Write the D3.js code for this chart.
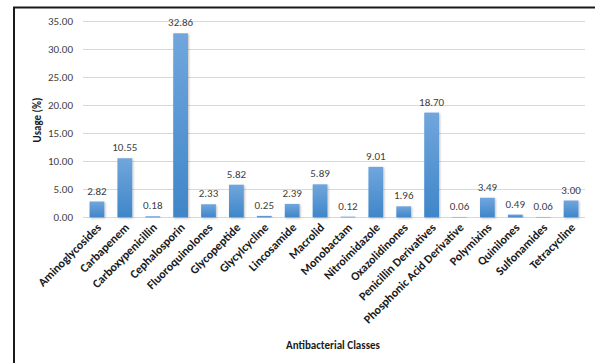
<!DOCTYPE html>
<html><head><meta charset="utf-8">
<script src="https://cdn.jsdelivr.net/npm/d3@7"></script>
<style>body{margin:0;background:#fff}svg{display:block}</style>
</head><body>
<script>
const categories = ["Aminoglycosides","Carbapenem","Carboxypenicillin","Cephalosporin","Fluoroquinolones","Glycopeptide","Glycylcycline","Lincosamide","Macrolid","Monobactam","Nitroimidazole","Oxazolidinones","Penicillin Derivatives","Phosphonic Acid Derivative","Polymixins","Quinilones","Sulfonamides","Tetracycline"];
const usage = [2.82,10.55,0.18,32.86,2.33,5.82,0.25,2.39,5.89,0.12,9.01,1.96,18.70,0.06,3.49,0.49,0.06,3.00];
const yTicks = [0,5,10,15,20,25,30,35];
const yTitle = "Usage (%)";
const xTitle = "Antibacterial Classes";

const W=595,H=363;
const font = "Carlito, Calibri, Lato, sans-serif";
const svg = d3.select("body").append("svg").attr("width",W).attr("height",H);
const defs = svg.append("defs");
const g = defs.append("linearGradient").attr("id","bg").attr("x1",0).attr("y1",0).attr("x2",0).attr("y2",1);
g.append("stop").attr("offset","0%").attr("stop-color","#71a6dd");
g.append("stop").attr("offset","100%").attr("stop-color","#3f86c9");
const f = defs.append("filter").attr("id","sh").attr("x","-30%").attr("y","-10%").attr("width","160%").attr("height","130%");
f.append("feDropShadow").attr("dx",1).attr("dy",1).attr("stdDeviation",0.8).attr("flood-color","#000").attr("flood-opacity",0.25);

// frame
svg.append("path").attr("d",`M14,${H+2}V7.5H${W+2}`).attr("fill","none").attr("stroke","#1a1a1a").attr("stroke-width",2);

const x = d3.scaleBand().domain(categories).range([83,585]).paddingInner(0.47).paddingOuter(0.235);
const y = d3.scaleLinear().domain([0,35]).range([217.3,21.3]);

// grid
svg.append("g").selectAll("line").data(yTicks).join("line")
 .attr("x1",83).attr("x2",585).attr("y1",d=>Math.round(y(d))+0.5).attr("y2",d=>Math.round(y(d))+0.5)
 .attr("stroke","#d9d9d9").attr("stroke-width",1);

// y axis labels
const ya = svg.append("g").attr("transform","translate(83,0)")
 .call(d3.axisLeft(y).tickValues(yTicks).tickFormat(d3.format(".2f")).tickSize(0).tickPadding(10));
ya.select(".domain").remove();
ya.selectAll("text").attr("font-family",font).attr("font-size",11).attr("fill","#404040");

// bars
svg.append("g").selectAll("rect").data(usage).join("rect")
 .attr("x",(d,i)=>x(categories[i])).attr("width",x.bandwidth())
 .attr("y",d=>y(d)).attr("height",d=>y(0)-y(d))
 .attr("fill","url(#bg)").attr("filter","url(#sh)");

// data labels
svg.append("g").selectAll("text").data(usage).join("text")
 .attr("x",(d,i)=>x(categories[i])+x.bandwidth()/2).attr("y",d=>y(d)-7)
 .attr("text-anchor","middle").attr("font-family",font).attr("font-size",11).attr("fill","#404040")
 .text(d=>d3.format(".2f")(d));

// x labels
const xa = svg.append("g").attr("transform",`translate(0,${y(0)})`)
 .call(d3.axisBottom(x).tickSize(0).tickPadding(0));
xa.select(".domain").remove();
xa.selectAll("text").attr("font-family",font).attr("font-size",12).attr("font-weight","bold").attr("fill","#1a1a1a")
 .attr("text-anchor","end").attr("dy",0).attr("y",0)
 .attr("transform","translate(5,11) rotate(-45)");

// titles
svg.append("text").attr("transform","translate(41,120) rotate(-90)").attr("text-anchor","middle")
 .attr("font-family",font).attr("font-size",11).attr("font-weight","bold").attr("fill","#1a1a1a").text(yTitle);
svg.append("text").attr("x",333).attr("y",349).attr("text-anchor","middle")
 .attr("font-family",font).attr("font-size",11).attr("font-weight","bold").attr("fill","#1a1a1a").text(xTitle);
</script>
</body></html>
